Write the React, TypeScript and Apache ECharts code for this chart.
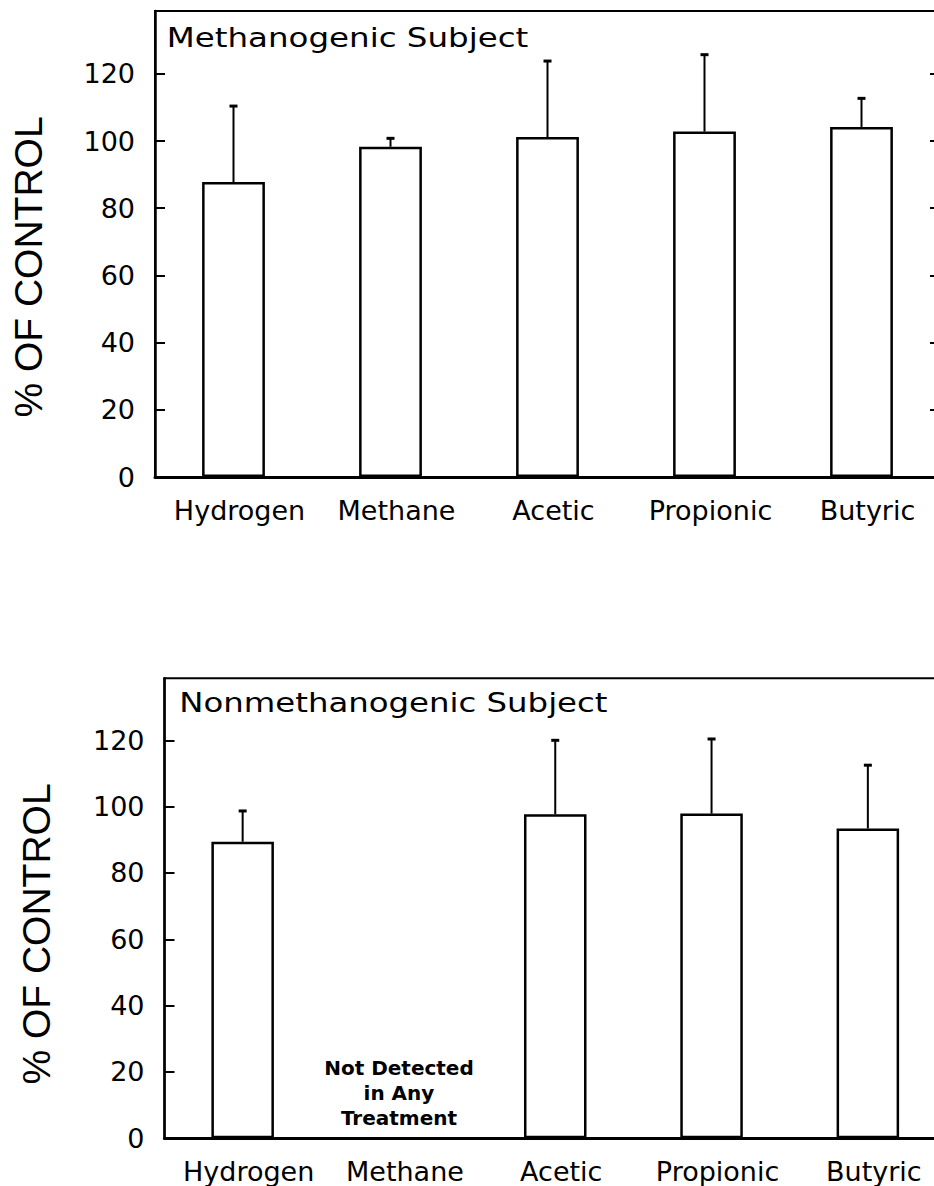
import React, { useEffect, useRef } from "react";
import * as echarts from "echarts";

const categories = ["Hydrogen", "Methane", "Acetic", "Propionic", "Butyric"];
const methanogenicMeans = [87.8, 98.3, 101.2, 102.8, 104.2];
const methanogenicErrors = [22.6, 2.5, 22.6, 22.9, 8.5];
const nonMethanogenicMeans: (number | null)[] = [89.4, null, 97.7, 97.9, 93.4];
const nonMethanogenicErrors: (number | null)[] = [9.3, null, 22.3, 22.5, 19.1];
const panelTitles = ["Methanogenic Subject", "Nonmethanogenic Subject"];
const yAxisTitle = "% OF CONTROL";
const notDetectedNote = "Not Detected\nin Any\nTreatment";
const Y_MIN = 0;
const Y_MAX = 138.7;
const Y_INTERVAL = 20;

const tickFont = "DejaVu Sans";

function errorData(means: (number | null)[], errs: (number | null)[]) {
  const out: number[][] = [];
  means.forEach((m, i) => {
    const e = errs[i];
    if (m != null && e != null) out.push([i, m, e]);
  });
  return out;
}

function renderError(params: any, api: any) {
  const idx = api.value(0);
  const mean = api.value(1);
  const err = api.value(2);
  const base = api.coord([idx, mean]);
  const top = api.coord([idx, mean + err]);
  return {
    type: "group",
    children: [
      {
        type: "line",
        shape: { x1: base[0], y1: base[1], x2: base[0], y2: top[1] },
        style: { stroke: "#000", lineWidth: 2 },
      },
      {
        type: "line",
        shape: { x1: base[0] - 4, y1: top[1], x2: base[0] + 4, y2: top[1] },
        style: { stroke: "#000", lineWidth: 3 },
      },
    ],
  };
}

function yAxisDef(gridIndex: number, right: boolean) {
  return {
    type: "value",
    gridIndex,
    position: right ? "right" : "left",
    min: Y_MIN,
    max: Y_MAX,
    interval: Y_INTERVAL,
    axisLine: { show: !right, lineStyle: { color: "#000", width: 2.5 } },
    axisTick: { show: true, inside: true, length: 10, lineStyle: { color: "#000", width: 2 } },
    axisLabel: {
      show: !right,
      margin: 20,
      fontSize: 27,
      fontFamily: tickFont,
      color: "#000",
      showMaxLabel: false,
    },
    splitLine: { show: false },
  };
}

function xAxisDef(gridIndex: number) {
  return {
    type: "category",
    gridIndex,
    data: categories,
    axisLine: { show: true, lineStyle: { color: "#000", width: 3 } },
    axisTick: { show: false },
    axisLabel: {
      margin: 20,
      fontSize: 27,
      fontFamily: tickFont,
      color: "#000",
      interval: 0,
      padding: [0, 0, 0, 12],
    },
    splitLine: { show: false },
  };
}

const barStyle = { color: "#fff", borderColor: "#000", borderWidth: 2.5 };

export default function App() {
  const ref = useRef<HTMLDivElement>(null);
  useEffect(() => {
    if (!ref.current) return;
    const chart = echarts.init(ref.current, undefined, { renderer: "svg" });
    const option: any = {
      animation: false,
      backgroundColor: "#fff",
      grid: [
        {
          left: 155, top: 11, width: 785, height: 466,
          show: true, borderColor: "#000", borderWidth: 2, backgroundColor: "transparent",
          containLabel: false, outerBoundsMode: "none",
        },
        {
          left: 164.5, top: 678.3, width: 781.5, height: 460,
          show: true, borderColor: "#000", borderWidth: 2, backgroundColor: "transparent",
          containLabel: false, outerBoundsMode: "none",
        },
      ],
      xAxis: [xAxisDef(0), xAxisDef(1)],
      yAxis: [yAxisDef(0, false), yAxisDef(0, true), yAxisDef(1, false), yAxisDef(1, true)],
      series: [
        {
          type: "bar",
          xAxisIndex: 0,
          yAxisIndex: 0,
          data: methanogenicMeans,
          barWidth: "40%",
          itemStyle: barStyle,
          z: 2,
        },
        {
          type: "custom",
          xAxisIndex: 0,
          yAxisIndex: 0,
          data: errorData(methanogenicMeans, methanogenicErrors),
          encode: { x: 0, y: 1 },
          renderItem: renderError,
          z: 3,
        },
        {
          type: "bar",
          xAxisIndex: 1,
          yAxisIndex: 2,
          data: nonMethanogenicMeans,
          barWidth: "40%",
          itemStyle: barStyle,
          z: 2,
          markPoint: {
            symbol: "rect",
            symbolSize: 0,
            data: [{ coord: ["Methane", 0] }],
            label: {
              show: true,
              position: "top",
              distance: 8,
              formatter: notDetectedNote,
              fontFamily: tickFont,
              fontWeight: "bold",
              fontSize: 20,
              lineHeight: 25,
              color: "#000",
              align: "center",
            },
          },
        },
        {
          type: "custom",
          xAxisIndex: 1,
          yAxisIndex: 2,
          data: errorData(nonMethanogenicMeans, nonMethanogenicErrors),
          encode: { x: 0, y: 1 },
          renderItem: renderError,
          z: 3,
        },
      ],
      graphic: [
        {
          type: "text",
          x: 166.7,
          y: 37.8,
          scaleX: 1.25,
          style: { text: panelTitles[0], font: '26px "DejaVu Sans"', fill: "#000", verticalAlign: "middle", align: "left" },
        },
        {
          type: "text",
          x: 179.3,
          y: 703,
          scaleX: 1.245,
          style: { text: panelTitles[1], font: '26px "DejaVu Sans"', fill: "#000", verticalAlign: "middle", align: "left" },
        },
        {
          type: "text",
          x: 28,
          y: 267,
          rotation: Math.PI / 2,
          style: { text: yAxisTitle, font: '39px "Liberation Sans"', fill: "#000", verticalAlign: "middle", align: "center" },
        },
        {
          type: "text",
          x: 36,
          y: 934,
          rotation: Math.PI / 2,
          style: { text: yAxisTitle, font: '39px "Liberation Sans"', fill: "#000", verticalAlign: "middle", align: "center" },
        },
      ],
    };
    chart.setOption(option);
    return () => chart.dispose();
  }, []);
  return (
    <div
      ref={ref}
      style={{ position: "absolute", left: 0, top: 0, width: 934, height: 1186 }}
    />
  );
}
